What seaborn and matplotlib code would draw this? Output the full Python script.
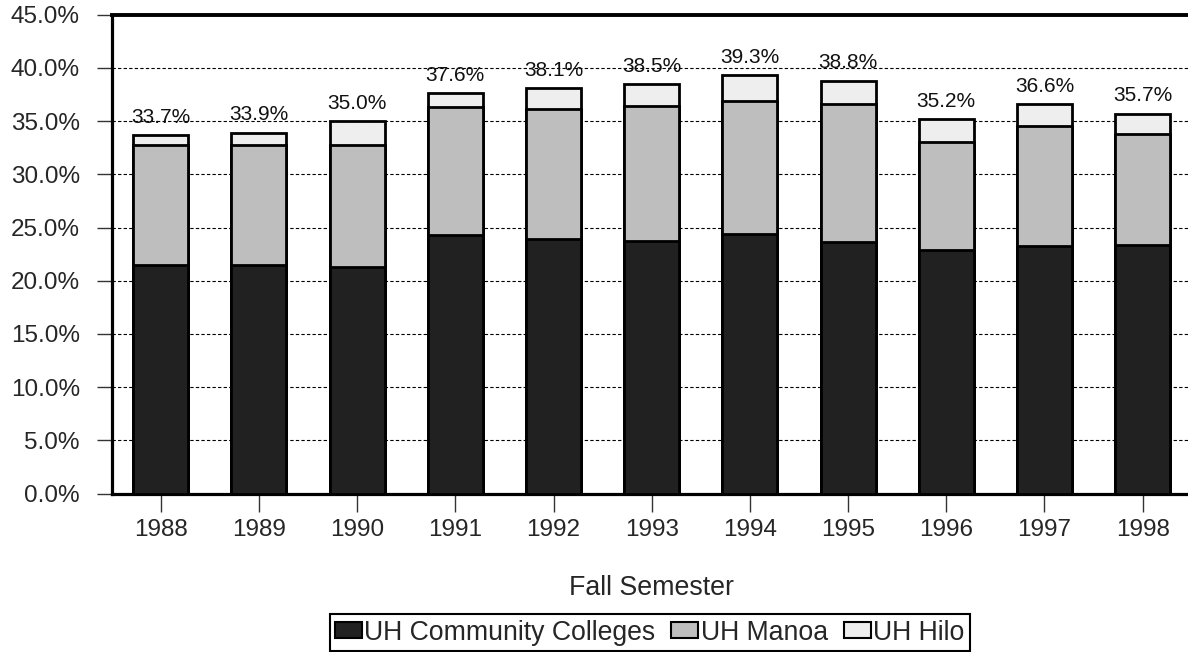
import matplotlib
matplotlib.use("Agg")
import matplotlib.pyplot as plt
import matplotlib.patches as mpatches
import seaborn as sns
import pandas as pd

years = ["1988", "1989", "1990", "1991", "1992", "1993", "1994", "1995", "1996", "1997", "1998"]
community = [21.5, 21.5, 21.3, 24.3, 23.9, 23.7, 24.4, 23.6, 22.9, 23.3, 23.4]
manoa = [11.3, 11.3, 11.5, 12.0, 12.2, 12.7, 12.5, 13.0, 10.1, 11.2, 10.4]
totals = [33.7, 33.9, 35.0, 37.6, 38.1, 38.5, 39.3, 38.8, 35.2, 36.6, 35.7]
series_names = ["UH Community Colleges", "UH Manoa", "UH Hilo"]
colors = ["#212121", "#bebebe", "#eeeeee"]

df = pd.DataFrame({"year": years, "cc": community, "manoa": manoa, "total": totals})
df["cc_manoa"] = df["cc"] + df["manoa"]

sns.set_theme(style="white")
plt.rcParams["font.family"] = ["Liberation Sans", "DejaVu Sans"]

fig = plt.figure(figsize=(11.88, 6.52), dpi=100)
ax = fig.add_axes([111.7 / 1188, 158.5 / 652, 1080 / 1188, 478.8 / 652])

# stacked look: draw cumulative heights, tallest first
bar_kw = dict(width=0.56, saturation=1, edgecolor="black", linewidth=2, ax=ax, zorder=3)
sns.barplot(data=df, x="year", y="total", color=colors[2], **bar_kw)
sns.barplot(data=df, x="year", y="cc_manoa", color=colors[1], **bar_kw)
sns.barplot(data=df, x="year", y="cc", color=colors[0], **bar_kw)

ax.bar_label(ax.containers[0], labels=[f"{v:.1f}%" for v in totals],
             padding=6, fontsize=15, color="#111111", zorder=4)

ax.set_ylim(0, 45)
ax.set_xlim(-0.5, 10.5)
yt = list(range(0, 50, 5))
ax.set_yticks(yt)
ax.set_yticklabels([f"{v:.1f}%" for v in yt])
ax.yaxis.grid(True, color="black", linestyle=(0, (3, 2)), linewidth=0.8, zorder=0)
ax.xaxis.grid(False)

ax.tick_params(axis="y", length=11, width=1, color="#333333", pad=12, labelsize=17.5, left=True)
ax.tick_params(axis="x", length=13, width=1, color="#333333", pad=5, labelsize=17.5, bottom=True)

for side in ["left", "bottom"]:
    ax.spines[side].set_color("black")
    ax.spines[side].set_linewidth(2.3)
ax.spines["top"].set_color("black")
ax.spines["top"].set_linewidth(2.8)
ax.spines["right"].set_visible(False)

ax.set_xlabel("Fall Semester", fontsize=19.3, labelpad=25)
ax.set_ylabel("")

handles = [mpatches.Patch(facecolor=c, edgecolor="black", linewidth=1.5) for c in colors]
leg = fig.legend(handles, series_names, loc="lower center", bbox_to_anchor=(0.547, 0.0015),
                 ncol=3, fontsize=19.2, frameon=True, fancybox=False, framealpha=1,
                 edgecolor="black", borderpad=0.2, handlelength=1.0, handleheight=0.56,
                 handletextpad=0.1, columnspacing=0.6, borderaxespad=0)
leg.get_frame().set_linewidth(1.5)

fig.savefig("out.png", dpi=100)
